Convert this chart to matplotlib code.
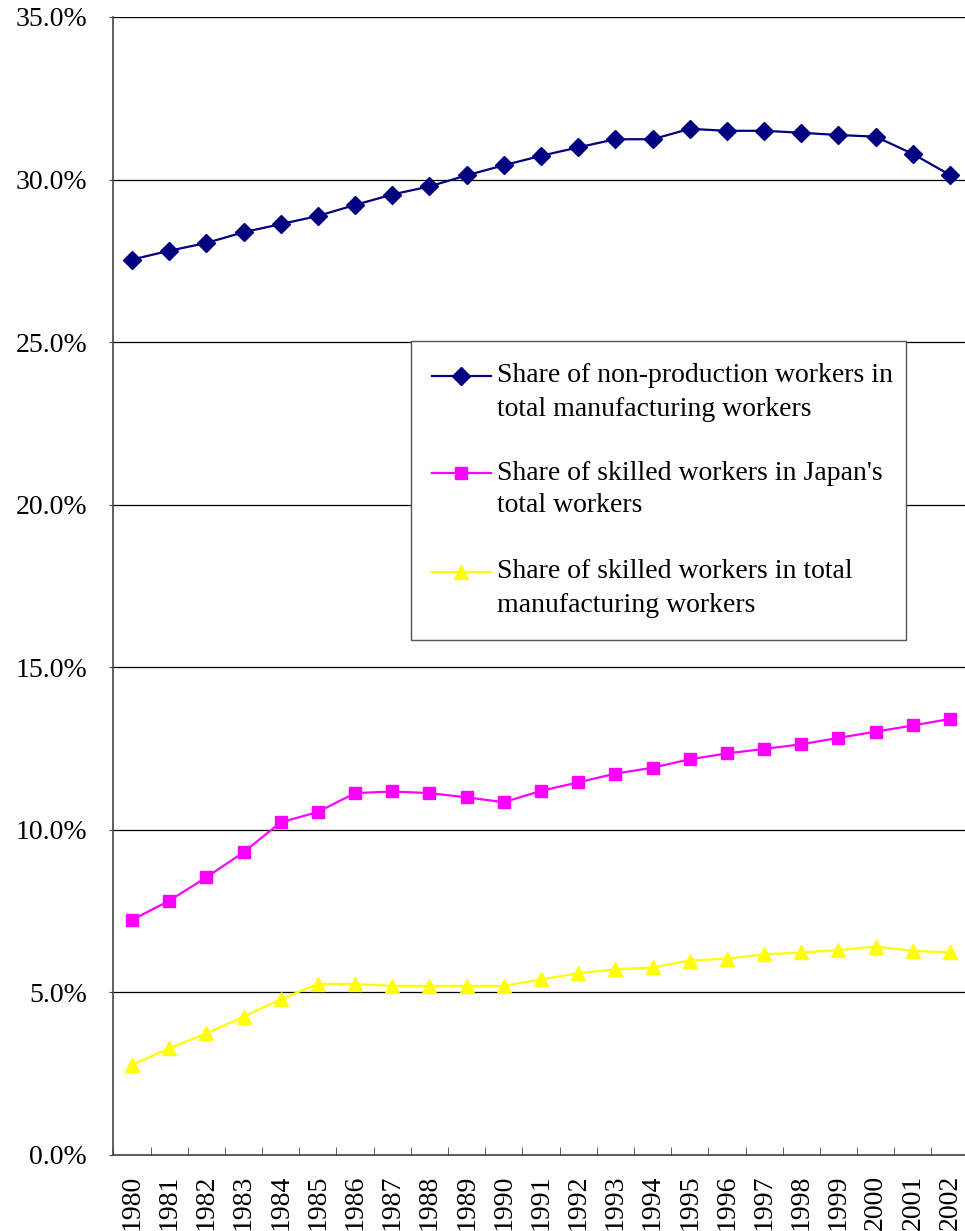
import matplotlib
matplotlib.use('Agg')
import matplotlib.pyplot as plt
from matplotlib.lines import Line2D
from matplotlib.patches import Rectangle
from matplotlib.ticker import FuncFormatter, MultipleLocator
import numpy as np

years = [str(y) for y in range(1980, 2003)]

# share of non-production workers in total manufacturing workers (%)
non_production = [27.54, 27.81, 28.05, 28.38, 28.63, 28.88, 29.22, 29.54,
                  29.79, 30.13, 30.44, 30.73, 30.99, 31.24, 31.24, 31.56,
                  31.50, 31.50, 31.44, 31.37, 31.32, 30.79, 30.14]
# share of skilled workers in Japan's total workers (%)
skilled_japan = [7.23, 7.82, 8.54, 9.31, 10.23, 10.55, 11.13, 11.18, 11.13,
                 11.00, 10.85, 11.20, 11.46, 11.73, 11.91, 12.17, 12.35,
                 12.49, 12.63, 12.83, 13.02, 13.21, 13.41]
# share of skilled workers in total manufacturing workers (%)
skilled_manuf = [2.77, 3.28, 3.74, 4.25, 4.79, 5.26, 5.26, 5.20, 5.20, 5.20,
                 5.20, 5.40, 5.59, 5.71, 5.77, 5.98, 6.04, 6.17, 6.23, 6.30,
                 6.41, 6.28, 6.23]

labels = ["Share of non-production workers in\ntotal manufacturing workers",
          "Share of skilled workers in Japan's\ntotal workers",
          "Share of skilled workers in total\nmanufacturing workers"]

plt.rcParams['font.family'] = ['Liberation Serif', 'DejaVu Serif']
plt.rcParams['font.size'] = 20

W, H = 965, 1231
fig = plt.figure(figsize=(W / 100, H / 100), dpi=100)
ax = fig.add_axes([113.4 / W, 1 - 1155 / H, (968.6 - 113.4) / W, 1138 / H])

x = np.arange(len(years))
styles = [('#000080', 'D', 9), ('#FF00FF', 's', 8), ('#FFFF00', '^', 10)]
series = [non_production, skilled_japan, skilled_manuf]
for vals, (c, m, ms) in zip(series, styles):
    ax.plot(x, vals, color=c, lw=1.6, marker=m, markersize=ms,
            markeredgecolor=c, markerfacecolor=c, clip_on=False, zorder=3)

ax.set_xlim(-0.5, len(years) - 0.5)
ax.set_ylim(0, 35)
ax.yaxis.set_major_locator(MultipleLocator(5))
ax.yaxis.set_major_formatter(FuncFormatter(lambda v, p: '%.1f%%' % v))
ax.grid(axis='y', color='black', lw=0.9)
ax.set_axisbelow(True)

ax.set_xticks(x)
ax.set_xticklabels(years, rotation=90, va='top')
ax.set_xticks(np.arange(-0.5, len(years)), minor=True)
ax.tick_params(axis='x', which='major', length=0, pad=14)
ax.tick_params(axis='x', which='minor', direction='in', length=6, color='#444444')
ax.tick_params(axis='y', length=3, pad=16, color='#444444')

for s in ['top', 'right']:
    ax.spines[s].set_visible(False)
for s in ['left', 'bottom']:
    ax.spines[s].set_color('#444444')
    ax.spines[s].set_linewidth(1.2)

# legend box drawn in pixel coordinates of the figure
def fx(px):
    return px / W

def fy(py):
    return 1 - py / H

fig.patches.append(Rectangle((fx(411), fy(640)), fx(906) - fx(411), fy(341) - fy(640),
                             transform=fig.transFigure, facecolor='white',
                             edgecolor='#555555', lw=1.0, zorder=5))
rows = [376, 473, 572]
for lab, (c, m, ms), ry in zip(labels, styles, rows):
    fig.lines.append(Line2D([fx(432), fx(491)], [fy(ry), fy(ry)], color=c, lw=1.6,
                            transform=fig.transFigure, zorder=6))
    fig.lines.append(Line2D([fx(461)], [fy(ry)], marker=m, markersize=ms, color=c,
                            transform=fig.transFigure, zorder=7))
    for i, line in enumerate(lab.split('\n')):
        fig.text(fx(497), fy(ry + 33 * i), line, va='center', ha='left', zorder=7)

fig.savefig('out.png', dpi=100)
